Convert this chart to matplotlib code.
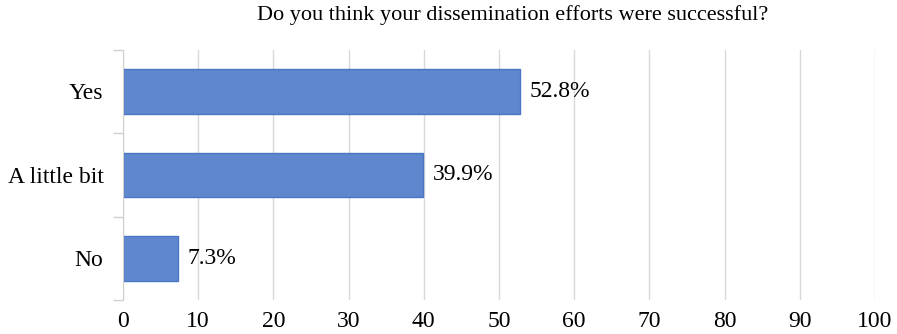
import matplotlib.pyplot as plt

categories = ["No", "A little bit", "Yes"]
values = [7.3, 39.9, 52.8]
xticks = [0, 10, 20, 30, 40, 50, 60, 70, 80, 90, 100]

plt.rcParams['font.family'] = ['Liberation Serif', 'DejaVu Serif']

fig = plt.figure(figsize=(8.97, 3.34), dpi=100)
ax = fig.add_axes([0.137, 0.102, 0.8385, 0.749])

pos = list(range(len(categories)))
ax.barh(pos, values, height=0.535, color='#5F87CE', edgecolor='#4A76C6', linewidth=1, zorder=3)
for p, v in zip(pos, values):
    ax.text(v + 1.3, p, f"{v}%", va='center', ha='left', fontsize=17)

ax.set_xlim(0, 100)
ax.set_ylim(-0.5, 2.5)
ax.set_xticks(xticks)
ax.set_xticklabels([str(t) for t in xticks], fontsize=17)
ax.set_yticks(pos)
ax.set_yticklabels(categories, fontsize=17)
ax.set_yticks([-0.5, 0.5, 1.5, 2.5], minor=True)
ax.tick_params(axis='y', which='major', length=0, pad=14)
ax.tick_params(axis='y', which='minor', length=7, color='#D0D0D0', width=1)
ax.tick_params(axis='x', length=0, pad=8)
ax.grid(axis='x', color='#D9D9D9', linewidth=1, zorder=0)

for s in ['top', 'right', 'bottom']:
    ax.spines[s].set_visible(False)
ax.spines['left'].set_color('#D0D0D0')
ax.spines['left'].set_zorder(4)

fig.text(0.571, 0.955, "Do you think your dissemination efforts were successful?", ha='center', va='center', fontsize=16)

plt.savefig("out.png", dpi=100)
